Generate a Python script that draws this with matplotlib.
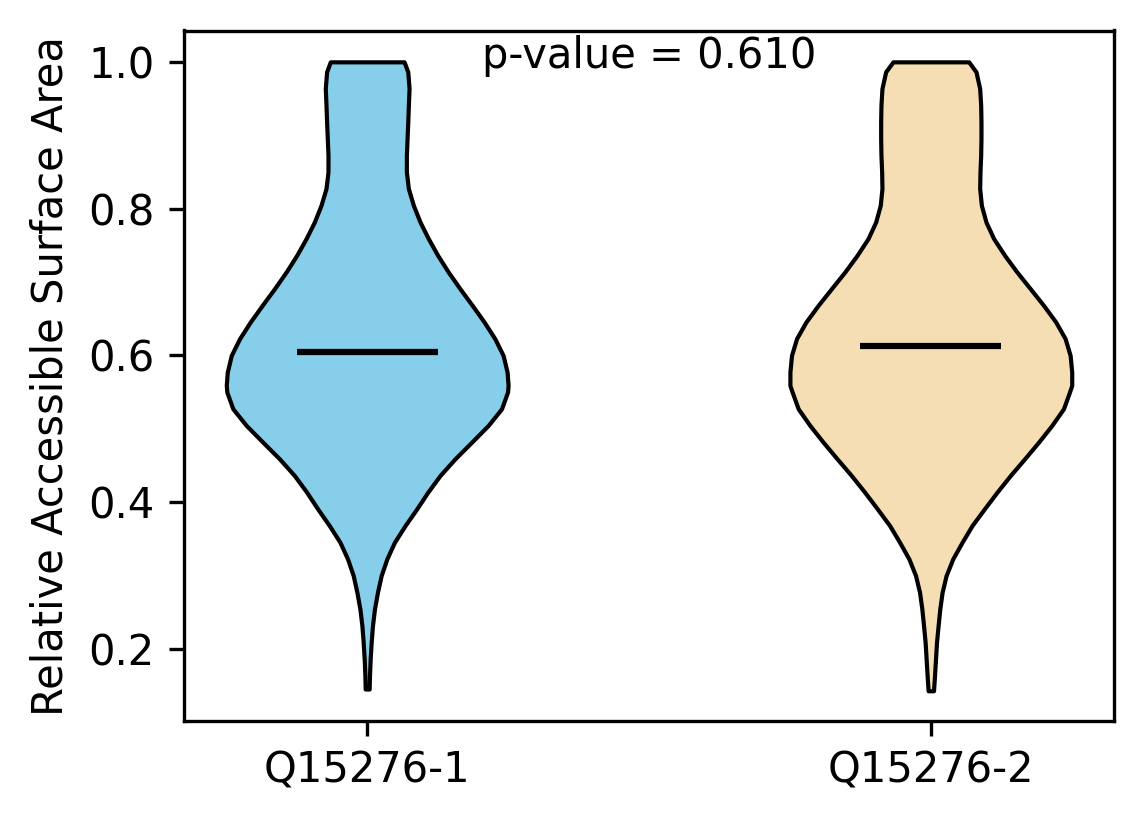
import numpy as np
import matplotlib
matplotlib.use("Agg")
import matplotlib.pyplot as plt

# ---- data ----
categories = ["Q15276-1", "Q15276-2"]
colors = ["#87CEEB", "#F5DEB3"]
p_value_text = "p-value = 0.610"
ylabel = "Relative Accessible Surface Area"

# KDE profile (value, relative density) for each violin
coords1 = [1.000, 0.9864, 0.9637, 0.9410, 0.9182, 0.8956, 0.8728, 0.8500, 0.8274,
           0.8046, 0.7818, 0.7592, 0.7364, 0.7137, 0.6910, 0.6683, 0.6455, 0.6229,
           0.6001, 0.5773, 0.5592, 0.5500, 0.5274, 0.5047, 0.4819, 0.4592, 0.4365,
           0.4137, 0.3911, 0.3683, 0.3455, 0.3229, 0.3001, 0.2773, 0.2547, 0.2319,
           0.2091, 0.1865, 0.1637, 0.1456]
dens1 = [37, 40.7, 42, 41.3, 40.7, 40, 39.3, 39.3, 41.3,
         46.3, 53, 61.3, 70.7, 81.3, 93, 105.3, 117.3, 128,
         136.3, 140.3, 141.3, 140.7, 134.7, 121.3, 104.7, 88, 73,
         60.7, 49.7, 38, 27.3, 19.7, 14, 10.3, 7.3, 5.3,
         4, 3, 2.3, 2]

coords2 = [1.000, 0.9864, 0.9637, 0.9410, 0.9182, 0.8956, 0.8728, 0.8500, 0.8274,
           0.8046, 0.7818, 0.7592, 0.7364, 0.7137, 0.6910, 0.6683, 0.6455, 0.6229,
           0.6001, 0.5773, 0.5592, 0.5500, 0.5274, 0.5047, 0.4819, 0.4592, 0.4365,
           0.4137, 0.3911, 0.3683, 0.3455, 0.3229, 0.3001, 0.2773, 0.2547, 0.2319,
           0.2091, 0.1865, 0.1637, 0.1432]
dens2 = [38, 45.3, 49, 50, 50.3, 50.3, 50, 49.3, 49,
         50.7, 55.3, 63, 74, 86.3, 99.7, 113, 125.3, 134.7,
         139.7, 141.3, 141.3, 139, 133, 121.3, 108, 94, 79.7,
         66.3, 53.7, 41.3, 31.3, 22, 15.3, 11.3, 9, 7.3,
         5.7, 4.7, 3.7, 2.7]

medians = [0.605, 0.613]

# ---- build violin stats ----
vpstats = []
for c, d, med in zip([coords1, coords2], [dens1, dens2], medians):
    c = np.asarray(c)[::-1]
    d = np.asarray(d, dtype=float)[::-1]
    vpstats.append(dict(coords=c, vals=d, mean=med, median=med,
                        min=c.min(), max=c.max()))

fig = plt.figure(figsize=(1144 / 300, 824 / 300), dpi=300)
ax = fig.add_axes([184 / 1144, (824 - 720.8) / 824, 930 / 1144, 690.3 / 824])

positions = [1, 2]
parts = ax.violin(vpstats, positions=positions, widths=0.5,
                  showmeans=False, showextrema=False, showmedians=True)
for body, col in zip(parts["bodies"], colors):
    body.set_facecolor(col)
    body.set_edgecolor("black")
    body.set_linewidth(1.0)
    body.set_joinstyle("round")
    body.set_alpha(1)
parts["cmedians"].set_color("black")
parts["cmedians"].set_linewidth(1.5)

ax.set_xticks(positions)
ax.set_xticklabels(categories, fontsize=10)
ax.set_ylim(0.1023, 1.0427)
ax.set_yticks([0.2, 0.4, 0.6, 0.8, 1.0])
ax.tick_params(labelsize=10)
ax.set_ylabel(ylabel, fontsize=10)
ax.text(0.5, 0.946, p_value_text, transform=ax.transAxes,
        ha="center", va="baseline", fontsize=10)

fig.savefig("out.png", dpi=300)
